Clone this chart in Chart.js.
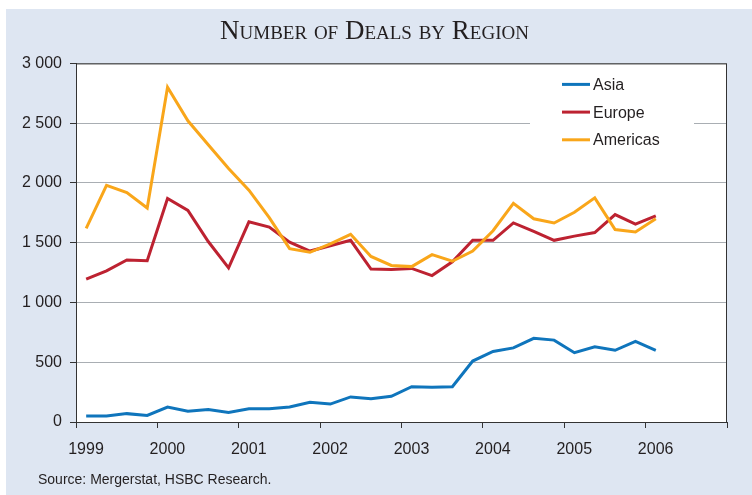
<!DOCTYPE html>
<html>
<head>
    <meta charset="utf-8">
    <title>Number of Deals by Region</title>
    <script src="https://cdn.jsdelivr.net/npm/chart.js"></script>
    <style>
        body { margin: 0; background: #fff; }
        #panel {
            position: absolute; left: 6px; top: 9px;
            width: 746px; height: 486px;
            background: #dee6f2;
        }
        #source {
            position: absolute; left: 32px; top: 462px;
            font: 14px 'Liberation Sans', Arial, sans-serif;
            color: #231f20;
        }
    </style>
</head>
<body>
    <div id="panel">
        <canvas id="dealsChart" width="746" height="486"></canvas>
        <div id="source">Source: Mergerstat, HSBC Research.</div>
    </div>

    <script>
        // quarterly data
        const quarters = [
            '1999 Q1', '1999 Q2', '1999 Q3', '1999 Q4',
            '2000 Q1', '2000 Q2', '2000 Q3', '2000 Q4',
            '2001 Q1', '2001 Q2', '2001 Q3', '2001 Q4',
            '2002 Q1', '2002 Q2', '2002 Q3', '2002 Q4',
            '2003 Q1', '2003 Q2', '2003 Q3', '2003 Q4',
            '2004 Q1', '2004 Q2', '2004 Q3', '2004 Q4',
            '2005 Q1', '2005 Q2', '2005 Q3', '2005 Q4',
            '2006 Q1'
        ];
        const asia = [50, 50, 70, 55, 125, 90, 105, 80, 110, 110, 125, 165, 150, 210, 195, 215,
                      295, 290, 295, 510, 590, 620, 700, 685, 580, 630, 600, 675, 600];
        const europe = [1195, 1265, 1355, 1350, 1870, 1770, 1510, 1290, 1675, 1630, 1505, 1430,
                        1475, 1520, 1280, 1275, 1285, 1225, 1340, 1520, 1520, 1665, 1595, 1520,
                        1555, 1585, 1735, 1655, 1725];
        const americas = [1620, 1980, 1920, 1790, 2800, 2520, 2320, 2120, 1940, 1710, 1450, 1420,
                          1490, 1570, 1385, 1310, 1300, 1400, 1345, 1430, 1600, 1830, 1700, 1665,
                          1755, 1875, 1610, 1590, 1700];
        const xLabels = ['1999', '2000', '2001', '2002', '2003', '2004', '2005', '2006'];
        const yLabels = ['0', '500', '1 000', '1 500', '2 000', '2 500', '3 000'];

        const textColor = '#231f20';
        const axisColor = '#333333';
        const sansFont = "'Liberation Sans', Arial, sans-serif";

        // a quarter sits in the middle of its quarter of the year
        const quarterX = (q) => Number(q.slice(0, 4)) + (Number(q.slice(6)) - 0.5) / 4;
        const toPoints = (values) => values.map((v, i) => ({ x: quarterX(quarters[i]), y: v }));

        const plotBox = {
            id: 'plotBox',
            beforeDraw(chart) {
                const a = chart.chartArea;
                const ctx = chart.ctx;
                ctx.save();
                ctx.fillStyle = '#ffffff';
                ctx.fillRect(a.left, a.top, a.right - a.left, a.bottom - a.top);
                ctx.restore();
            },
            afterDatasetsDraw(chart) {
                const a = chart.chartArea;
                const ctx = chart.ctx;
                ctx.save();
                ctx.strokeStyle = axisColor;
                ctx.lineWidth = 1;
                ctx.strokeRect(a.left + 0.5, a.top + 0.5, a.right - a.left - 1, a.bottom - a.top);
                ctx.restore();
            }
        };

        // legend drawn inside the plot, top right
        const innerLegend = {
            id: 'innerLegend',
            beforeDatasetsDraw(chart) {
                const a = chart.chartArea;
                const ctx = chart.ctx;
                ctx.save();
                ctx.fillStyle = '#ffffff';
                ctx.fillRect(a.right - 197, a.top + 5, 164, 90);
                ctx.restore();
            },
            afterDatasetsDraw(chart) {
                const a = chart.chartArea;
                const ctx = chart.ctx;
                ctx.save();
                ctx.font = '16px ' + sansFont;
                ctx.textBaseline = 'middle';
                ctx.textAlign = 'left';
                chart.data.datasets.forEach((ds, i) => {
                    const y = a.top + 21 + i * 27.7;
                    ctx.strokeStyle = ds.borderColor;
                    ctx.lineWidth = 3;
                    ctx.beginPath();
                    ctx.moveTo(a.right - 165, y);
                    ctx.lineTo(a.right - 137, y);
                    ctx.stroke();
                    ctx.fillStyle = textColor;
                    ctx.fillText(ds.label, a.right - 134, y + 1);
                });
                ctx.restore();
            }
        };

        const ctx = document.getElementById('dealsChart').getContext('2d');
        new Chart(ctx, {
            type: 'line',
            data: {
                datasets: [
                    { label: 'Asia', data: toPoints(asia), borderColor: '#0f75bc', order: 3 },
                    { label: 'Europe', data: toPoints(europe), borderColor: '#bd2231', order: 2 },
                    { label: 'Americas', data: toPoints(americas), borderColor: '#f9a61a', order: 1 }
                ]
            },
            options: {
                responsive: false,
                animation: false,
                parsing: false,
                layout: { padding: { left: 16, right: 25, top: 0, bottom: 33 } },
                elements: {
                    line: { borderWidth: 3, tension: 0, fill: false },
                    point: { radius: 0 }
                },
                plugins: {
                    legend: { display: false },
                    tooltip: { enabled: false },
                    title: {
                        display: true,
                        text: 'Number of Deals by Region',
                        color: textColor,
                        font: { family: "'Liberation Serif', 'Times New Roman', serif", size: 27, weight: 'small-caps', lineHeight: 1.2 },
                        padding: { top: 7, bottom: 15 }
                    }
                },
                scales: {
                    x: {
                        type: 'linear',
                        min: 1999,
                        max: 2007,
                        afterFit: (scale) => { scale.height = 40; },
                        grid: { drawOnChartArea: false, tickLength: 6, tickColor: axisColor },
                        border: { color: axisColor, width: 1 },
                        ticks: {
                            stepSize: 1,
                            autoSkip: false,
                            labelOffset: 10,
                            padding: 12,
                            color: textColor,
                            font: { family: sansFont, size: 16 },
                            callback: (v) => xLabels[Math.round(v) - 1999] || ''
                        }
                    },
                    y: {
                        min: 0,
                        max: 3000,
                        afterFit: (scale) => { scale.width = 54; },
                        grid: { color: '#a9aeb3', lineWidth: 1, tickLength: 6, tickColor: axisColor },
                        border: { color: axisColor, width: 1 },
                        ticks: {
                            stepSize: 500,
                            padding: 8,
                            color: textColor,
                            font: { family: sansFont, size: 16 },
                            callback: (v) => yLabels[Math.round(v / 500)]
                        }
                    }
                }
            },
            plugins: [plotBox, innerLegend]
        });
    </script>
</body>
</html>
